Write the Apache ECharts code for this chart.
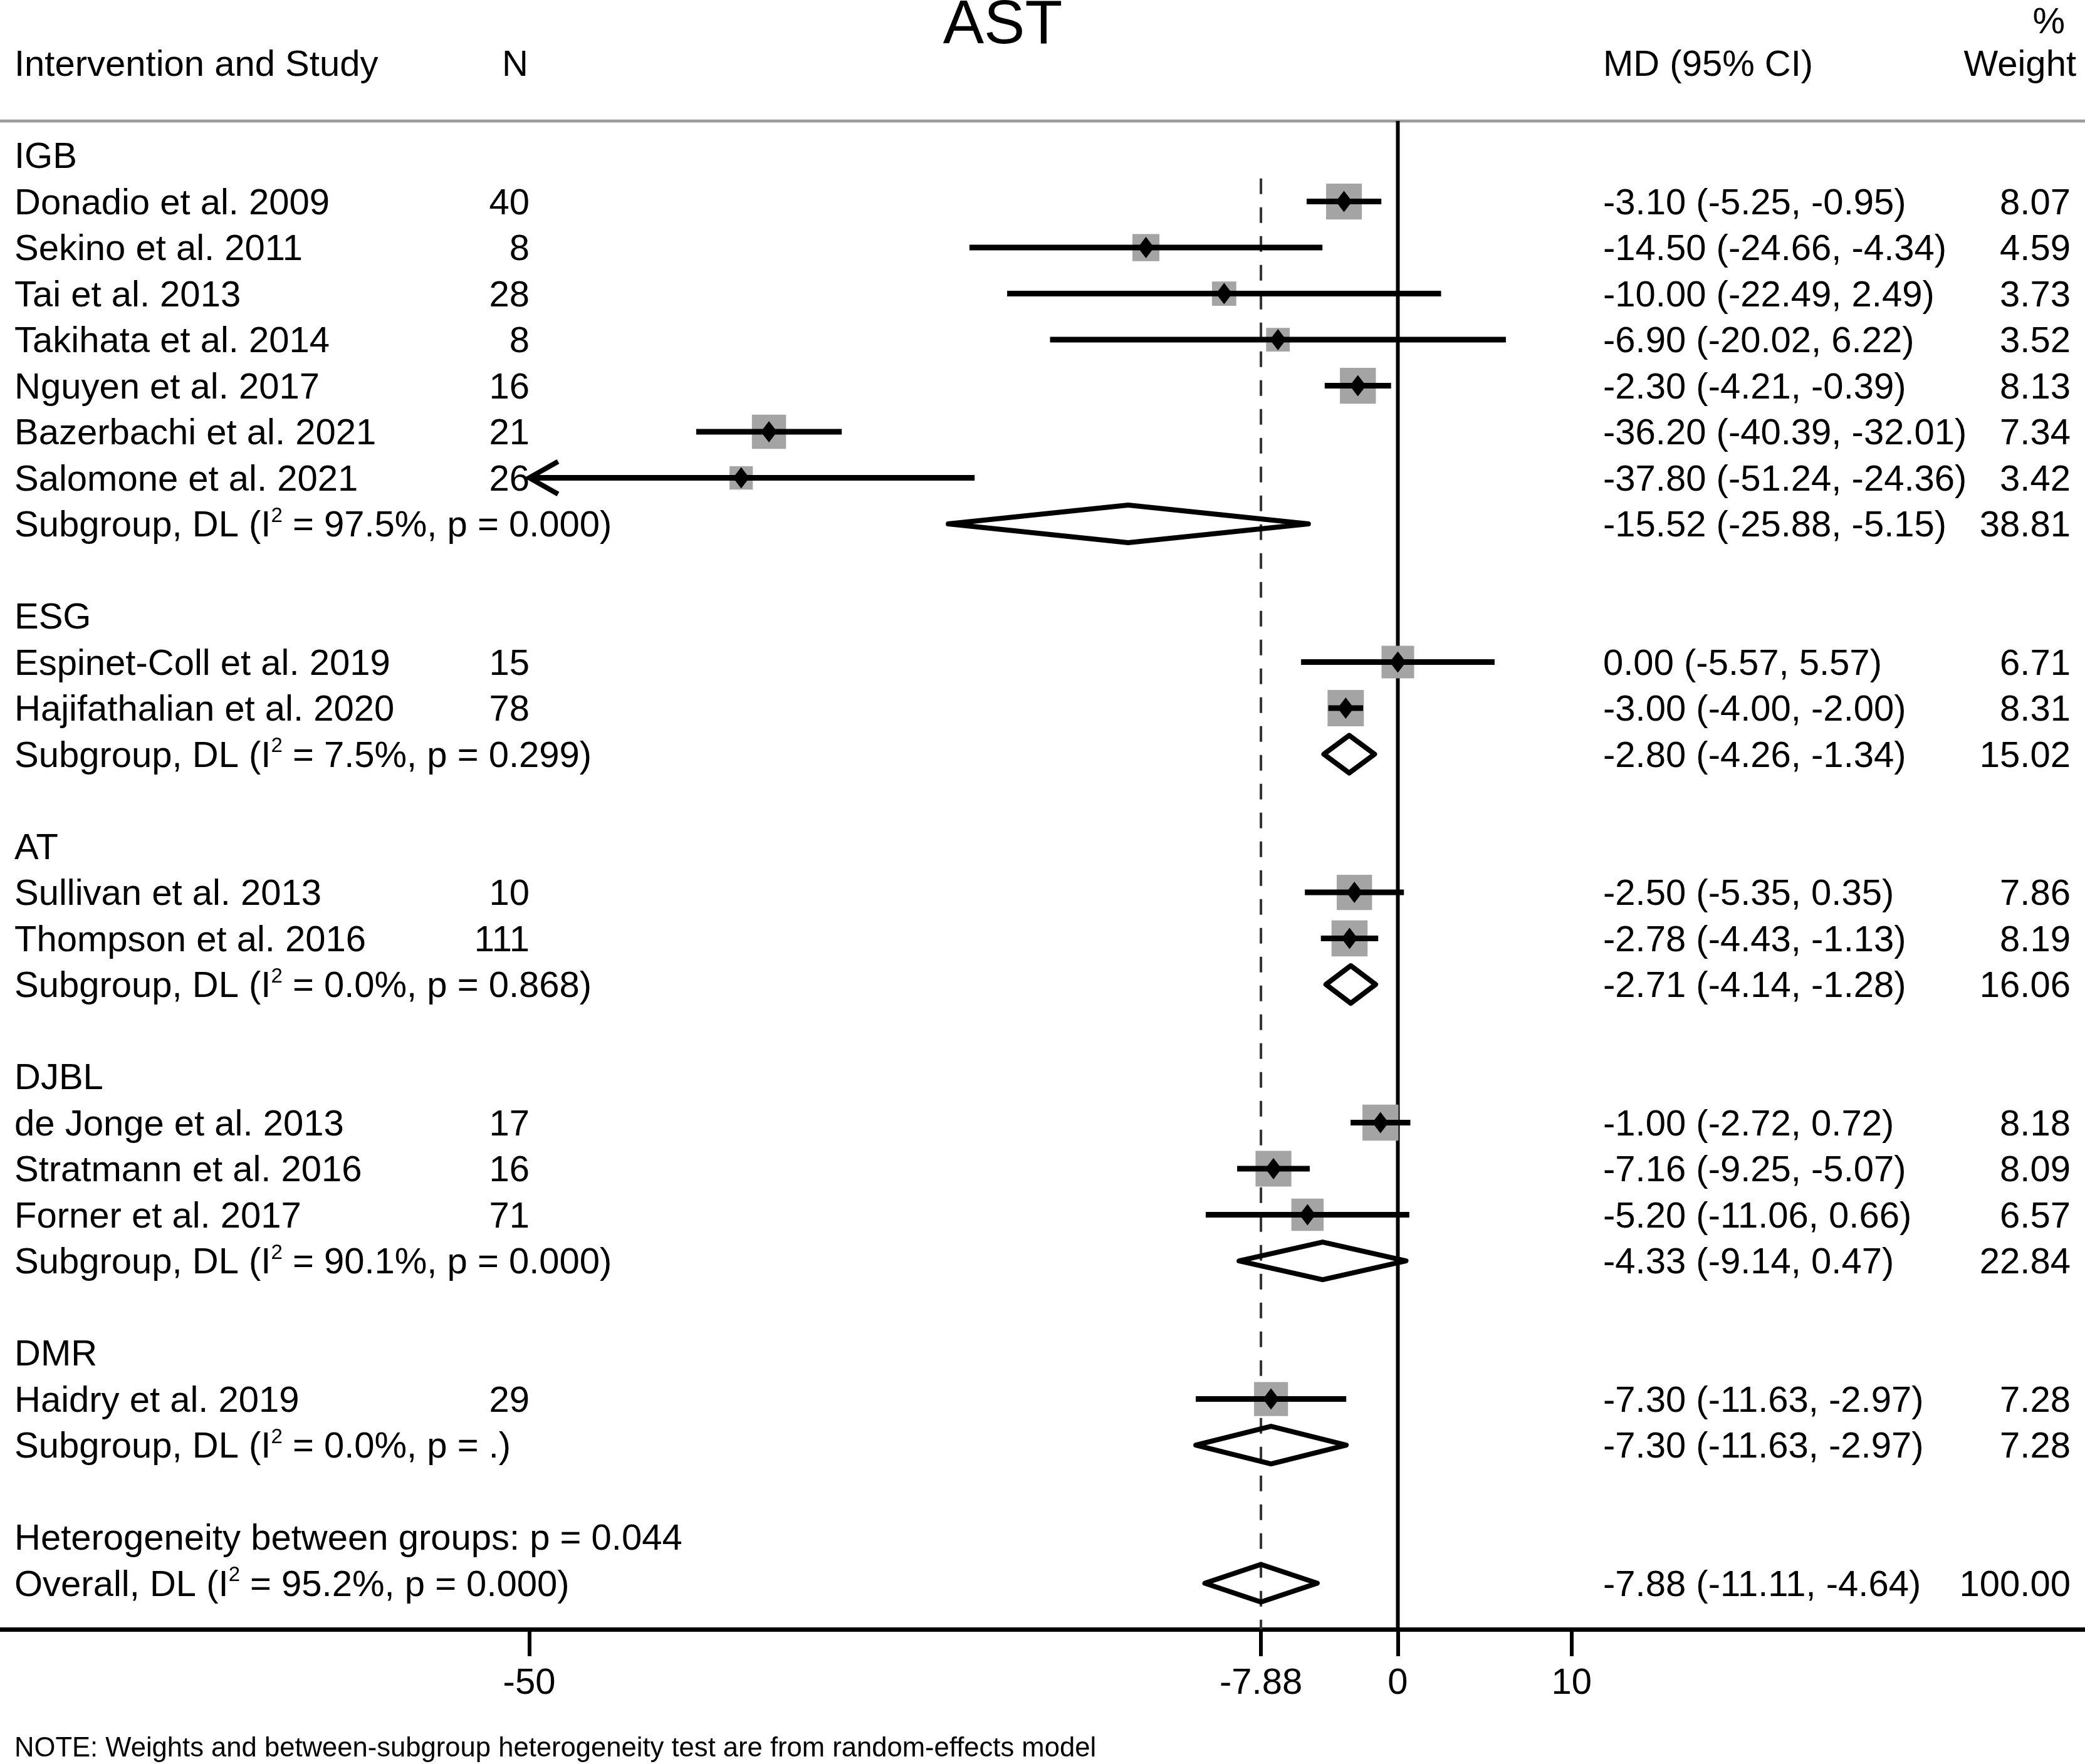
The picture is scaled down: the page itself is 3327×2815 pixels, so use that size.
<!DOCTYPE html>
<html>
<head>
<meta charset="utf-8">
<title>AST forest plot</title>
<script src="https://cdn.jsdelivr.net/npm/echarts@6/dist/echarts.min.js"></script>
<style>
  html, body { margin: 0; padding: 0; background: #fff; }
  #chart { width: 3327px; height: 2815px; }
</style>
</head>
<body>
<div id="chart"></div>
<script>
/* ============================================================
   AST forest plot — mean difference by intervention (DL random effects)
   rows are read top to bottom, one entry per printed line
   ============================================================ */

// ---- data ----
const rowLabels = [
  'IGB', 'Donadio et al. 2009', 'Sekino et al. 2011', 'Tai et al. 2013', 'Takihata et al. 2014',
  'Nguyen et al. 2017', 'Bazerbachi et al. 2021', 'Salomone et al. 2021',
  'Subgroup, DL (I² = 97.5%, p = 0.000)', '',
  'ESG', 'Espinet-Coll et al. 2019', 'Hajifathalian et al. 2020',
  'Subgroup, DL (I² = 7.5%, p = 0.299)', '',
  'AT', 'Sullivan et al. 2013', 'Thompson et al. 2016',
  'Subgroup, DL (I² = 0.0%, p = 0.868)', '',
  'DJBL', 'de Jonge et al. 2013', 'Stratmann et al. 2016', 'Forner et al. 2017',
  'Subgroup, DL (I² = 90.1%, p = 0.000)', '',
  'DMR', 'Haidry et al. 2019',
  'Subgroup, DL (I² = 0.0%, p = .)', '',
  'Heterogeneity between groups: p = 0.044',
  'Overall, DL (I² = 95.2%, p = 0.000)',
];
// 'g' group header, 's' study, 'p' pooled estimate, '' text only
const rowKinds = [
  'g', 's', 's', 's', 's', 's', 's', 's', 'p', '',
  'g', 's', 's', 'p', '',
  'g', 's', 's', 'p', '',
  'g', 's', 's', 's', 'p', '',
  'g', 's', 'p', '',
  '', 'p',
];
const sampleN = [
  null, 40, 8, 28, 8, 16, 21, 26, null, null,
  null, 15, 78, null, null,
  null, 10, 111, null, null,
  null, 17, 16, 71, null, null,
  null, 29, null, null,
  null, null,
];
const md = [
  null, -3.10, -14.50, -10.00, -6.90, -2.30, -36.20, -37.80, -15.52, null,
  null, 0.00, -3.00, -2.80, null,
  null, -2.50, -2.78, -2.71, null,
  null, -1.00, -7.16, -5.20, -4.33, null,
  null, -7.30, -7.30, null,
  null, -7.88,
];
const ciLow = [
  null, -5.25, -24.66, -22.49, -20.02, -4.21, -40.39, -51.24, -25.88, null,
  null, -5.57, -4.00, -4.26, null,
  null, -5.35, -4.43, -4.14, null,
  null, -2.72, -9.25, -11.06, -9.14, null,
  null, -11.63, -11.63, null,
  null, -11.11,
];
const ciHigh = [
  null, -0.95, -4.34, 2.49, 6.22, -0.39, -32.01, -24.36, -5.15, null,
  null, 5.57, -2.00, -1.34, null,
  null, 0.35, -1.13, -1.28, null,
  null, 0.72, -5.07, 0.66, 0.47, null,
  null, -2.97, -2.97, null,
  null, -4.64,
];
const weightPct = [
  null, 8.07, 4.59, 3.73, 3.52, 8.13, 7.34, 3.42, 38.81, null,
  null, 6.71, 8.31, 15.02, null,
  null, 7.86, 8.19, 16.06, null,
  null, 8.18, 8.09, 6.57, 22.84, null,
  null, 7.28, 7.28, null,
  null, 100.00,
];
const overallMD = -7.88;
const xTicks = [-50, -7.88, 0, 10];
const plotMin = -50;          // CIs beyond this get an arrow

// ---- layout ----
const FONT = '"Liberation Sans", Arial, Helvetica, sans-serif';
const W = 3327, H = 2815;
const zeroPx = 2230.5, pxPerUnit = 27.72;
const xMin = -zeroPx / pxPerUnit;
const xMax = (W - zeroPx) / pxPerUnit;
const headerRow = -0.75, axisRow = 32;     // y of the grey rule and of the x axis
const colX = { label: 23, n: 845, ci: 2558, weight: 3304 };
const textDy = 4;                           // em-box middle sits a bit above the cap middle
const boxScale = 20.1;                      // box side = boxScale * sqrt(weight)

const fmt = (v) => v.toFixed(2);
const supText = (s) => s.replace('²', '{sup|2}');

function textEl(x, y, text, align, size) {
  return {
    type: 'text', x, y: y + textDy,
    style: {
      text, fill: '#000', fontFamily: FONT, fontSize: size || 58, lineHeight: 66,
      align, verticalAlign: 'middle',
      rich: { sup: { fontFamily: FONT, fontSize: 33, fill: '#000', verticalAlign: 'top' } },
    },
  };
}

// ---- study boxes, CI lines and pooled diamonds ----
const markRows = rowKinds.map((k, i) => i).filter((i) => md[i] != null);

function renderMark(params, api) {
  const r = markRows[params.dataIndex];
  const est = api.value(1), lo = api.value(2), hi = api.value(3), w = api.value(4);
  const y = api.coord([0, r])[1];
  const xm = api.coord([est, r])[0];
  const xl = api.coord([Math.max(lo, plotMin), r])[0];
  const xh = api.coord([hi, r])[0];
  const kids = [];
  if (rowKinds[r] === 's') {
    const side = boxScale * Math.sqrt(w);
    kids.push({ type: 'rect', shape: { x: xm - side / 2, y: y - side / 2, width: side, height: side },
      style: { fill: '#a4a4a4' } });
    kids.push({ type: 'line', shape: { x1: xl, y1: y, x2: xh, y2: y },
      style: { stroke: '#000', lineWidth: 9 } });
    if (lo < plotMin) {
      kids.push({ type: 'polyline', shape: { points: [[xl + 46, y - 26], [xl, y], [xl + 46, y + 26]] },
        style: { stroke: '#000', lineWidth: 8, fill: null } });
    }
    kids.push({ type: 'polygon', shape: { points: [[xm, y - 17], [xm + 13, y], [xm, y + 17], [xm - 13, y]] },
      style: { fill: '#000' } });
  } else {
    kids.push({ type: 'polygon', shape: { points: [[xl, y], [xm, y - 30], [xh, y], [xm, y + 30]] },
      style: { fill: null, stroke: '#000', lineWidth: 8, lineJoin: 'round' } });
  }
  return { type: 'group', children: kids };
}

// ---- text columns ----
function renderRowText(params, api) {
  const r = params.dataIndex;
  const y = api.coord([0, r])[1];
  const kids = [];
  if (rowLabels[r]) kids.push(textEl(colX.label, y, supText(rowLabels[r]), 'left'));
  if (sampleN[r] != null) kids.push(textEl(colX.n, y, String(sampleN[r]), 'right'));
  if (md[r] != null) {
    kids.push(textEl(colX.ci, y, fmt(md[r]) + ' (' + fmt(ciLow[r]) + ', ' + fmt(ciHigh[r]) + ')', 'left'));
    kids.push(textEl(colX.weight, y, fmt(weightPct[r]), 'right'));
  }
  return { type: 'group', children: kids };
}

const chart = echarts.init(document.getElementById('chart'), null, { renderer: 'canvas' });
chart.setOption({
  animation: false,
  backgroundColor: '#fff',
  grid: { left: 0, right: 0, top: 193, bottom: H - 2600, outerBoundsMode: 'none' },
  xAxis: {
    type: 'value', min: xMin, max: xMax,
    splitLine: { show: false },
    axisLine: { show: true, onZero: false, lineStyle: { color: '#000', width: 7 } },
    axisTick: { show: true, length: 43, customValues: xTicks, lineStyle: { color: '#000', width: 6 } },
    axisLabel: {
      customValues: xTicks, margin: 58, color: '#000', fontSize: 58, fontFamily: FONT,
      formatter: (v) => String(v),
    },
  },
  yAxis: {
    type: 'value', inverse: true, min: headerRow, max: axisRow, show: false,
    splitLine: { show: false },
  },
  graphic: [
    { type: 'text', x: 1600, y: 42, style: { text: 'AST', fill: '#000', fontFamily: FONT, fontSize: 98, align: 'center', verticalAlign: 'middle' } },
    textEl(colX.label, 101, 'Intervention and Study', 'left'),
    textEl(843, 101, 'N', 'right'),
    textEl(colX.ci, 101, 'MD (95% CI)', 'left'),
    textEl(3295, 33, '%', 'right'),
    textEl(3313, 101, 'Weight', 'right'),
    textEl(colX.label, 2787, 'NOTE: Weights and between-subgroup heterogeneity test are from random-effects model', 'left', 43.6),
  ],
  series: [
    { // grey rule under the header
      type: 'line', symbol: 'none', silent: true, z: 1,
      data: [[xMin, headerRow], [xMax, headerRow]],
      lineStyle: { color: '#9c9c9c', width: 5 },
    },
    { // line of no effect
      type: 'line', symbol: 'none', silent: true, z: 1,
      data: [[0, headerRow], [0, axisRow]],
      lineStyle: { color: '#000', width: 6 },
    },
    { // overall estimate
      type: 'line', symbol: 'none', silent: true, z: 1,
      data: [[overallMD, 0.5], [overallMD, axisRow]],
      lineStyle: { color: '#333', width: 4, type: [25, 21] },
    },
    {
      type: 'custom', z: 3, silent: true,
      renderItem: renderMark,
      encode: { x: 1, y: 0 },
      data: markRows.map((i) => [i, md[i], ciLow[i], ciHigh[i], weightPct[i]]),
    },
    {
      type: 'custom', z: 4, silent: true,
      renderItem: renderRowText,
      encode: { x: 0, y: 1 },
      data: rowLabels.map((l, i) => [0, i]),
    },
  ],
});
</script>
</body>
</html>
